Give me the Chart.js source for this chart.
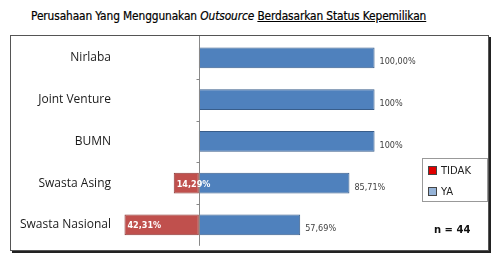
<!DOCTYPE html>
<html>
<head>
<meta charset="utf-8">
<script src="https://cdn.jsdelivr.net/npm/chart.js@4.4.1/dist/chart.umd.min.js"></script>
<style>
  html, body { margin: 0; padding: 0; background: #fff; }
  body { width: 500px; height: 260px; position: relative; overflow: hidden; font-family: "DejaVu Sans Condensed", "DejaVu Sans", sans-serif; }
  #title { position: absolute; left: 31px; top: 9px; font-size: 11.8px; color: #000; white-space: nowrap; letter-spacing: -0.1px; -webkit-text-stroke: 0.2px #000; }
  #title i { font-style: italic; }
  #title u { text-decoration: underline; }
  #frame { position: absolute; left: 10px; top: 35px; width: 477px; height: 214px; border: 1px solid #555; box-shadow: 2px 2px 0 #222; }
  #chartWrap { position: absolute; left: 0; top: 0; width: 500px; height: 260px; }
  #legend { position: absolute; left: 422px; top: 158px; width: 64px; height: 42px; border: 1px solid #999; background: #fff; font-family: "DejaVu Sans", sans-serif; font-size: 10px; color: #222; }
  .item { position: absolute; left: 5px; height: 12px; line-height: 12px; }
  .item span.sw { display: inline-block; width: 7px; height: 7px; border: 1px solid #444; vertical-align: -1px; margin-right: 4px; }
  #nInfo { position: absolute; left: 434px; top: 224px; font-family: "DejaVu Sans", sans-serif; font-size: 10px; font-weight: bold; color: #111; }
</style>
</head>
<body>
<div id="title">Perusahaan Yang Menggunakan <i>Outsource</i> <u>Berdasarkan Status Kepemilikan</u></div>
<div id="frame"></div>
<div id="chartWrap"><canvas id="chart" width="500" height="260"></canvas></div>
<div id="legend"></div>
<div id="nInfo">n = 44</div>
<script>
// Chart data
const categories = ['Nirlaba', 'Joint Venture', 'BUMN', 'Swasta Asing', 'Swasta Nasional'];
const seriesNames = ['TIDAK', 'YA'];
const tidakValues = [0, 0, 0, 14.29, 42.31];
const yaValues = [100, 100, 100, 85.71, 57.69];
const yaLabels = ['100,00%', '100%', '100%', '85,71%', '57,69%'];
const tidakLabels = ['', '', '', '14,29%', '42,31%'];

const colors = {
    red: '#C0504D',
    redBorder: '#8C3836',
    blue: '#4F81BD',
    blueBorder: '#385D8A',
    legendRed: '#E00000',
    legendBlue: '#95B3D7'
};

// Legend (HTML, drawn from series names)
const legendEl = document.getElementById('legend');
const swatches = [colors.legendRed, colors.legendBlue];
seriesNames.forEach((name, i) => {
    const div = document.createElement('div');
    div.className = 'item';
    div.style.top = (6 + i * 21) + 'px';
    div.innerHTML = '<span class="sw" style="background:' + swatches[i] + '"></span>' + name;
    legendEl.appendChild(div);
});

// zero line + small ticks between categories, plus value labels
const extrasPlugin = {
    id: 'extras',
    afterDatasetsDraw(chart) {
        const ctx = chart.ctx;
        const x = chart.scales.x;
        const y = chart.scales.y;
        const x0 = Math.round(x.getPixelForValue(0)) + 0.5;

        ctx.save();
        ctx.strokeStyle = '#888';
        ctx.lineWidth = 1;
        ctx.beginPath();
        ctx.moveTo(x0, 36);
        ctx.lineTo(x0, chart.chartArea.bottom);
        for (let i = 1; i < categories.length; i++) {
            const yy = Math.round((y.getPixelForValue(i - 1) + y.getPixelForValue(i)) / 2) + 0.5;
            ctx.moveTo(x0 - 3, yy);
            ctx.lineTo(x0, yy);
        }
        ctx.stroke();

        // YA labels to the right of the bar
        const metaYa = chart.getDatasetMeta(1);
        ctx.font = '9px "DejaVu Sans Condensed", "DejaVu Sans", sans-serif';
        ctx.fillStyle = '#404040';
        ctx.textAlign = 'left';
        ctx.textBaseline = 'middle';
        metaYa.data.forEach((bar, i) => {
            ctx.fillText(yaLabels[i], bar.x + 5, bar.y + 4);
        });

        // TIDAK labels inside the red bar
        const metaTidak = chart.getDatasetMeta(0);
        ctx.font = 'bold 9px "DejaVu Sans Condensed", "DejaVu Sans", sans-serif';
        ctx.fillStyle = '#ffffff';
        metaTidak.data.forEach((bar, i) => {
            if (tidakLabels[i]) ctx.fillText(tidakLabels[i], bar.x + 3, bar.y + 1);
        });
        ctx.restore();
    }
};

new Chart(document.getElementById('chart'), {
    type: 'bar',
    data: {
        labels: categories,
        datasets: [
            {
                label: seriesNames[0],
                data: tidakValues.map(v => -v),
                backgroundColor: colors.red,
                borderColor: colors.redBorder,
                borderWidth: 1,
                borderSkipped: false
            },
            {
                label: seriesNames[1],
                data: yaValues,
                backgroundColor: colors.blue,
                borderColor: colors.blueBorder,
                borderWidth: 1,
                borderSkipped: false
            }
        ]
    },
    options: {
        indexAxis: 'y',
        responsive: false,
        animation: false,
        events: [],
        layout: {
            padding: { top: 37, bottom: 10, right: 20, left: 0 }
        },
        plugins: {
            legend: { display: false },
            tooltip: { enabled: false }
        },
        datasets: {
            bar: { categoryPercentage: 1, barPercentage: 0.5 }
        },
        scales: {
            x: {
                display: false,
                stacked: true,
                min: -46,
                max: 160
            },
            y: {
                stacked: true,
                border: { display: false },
                grid: { display: false, drawTicks: false },
                afterFit(scale) { scale.width = 118; },
                ticks: {
                    color: '#1a1a1a',
                    padding: 7,
                    font: { family: '"Open Sans", sans-serif', size: 12 }
                }
            }
        }
    },
    plugins: [extrasPlugin]
});
</script>
</body>
</html>
